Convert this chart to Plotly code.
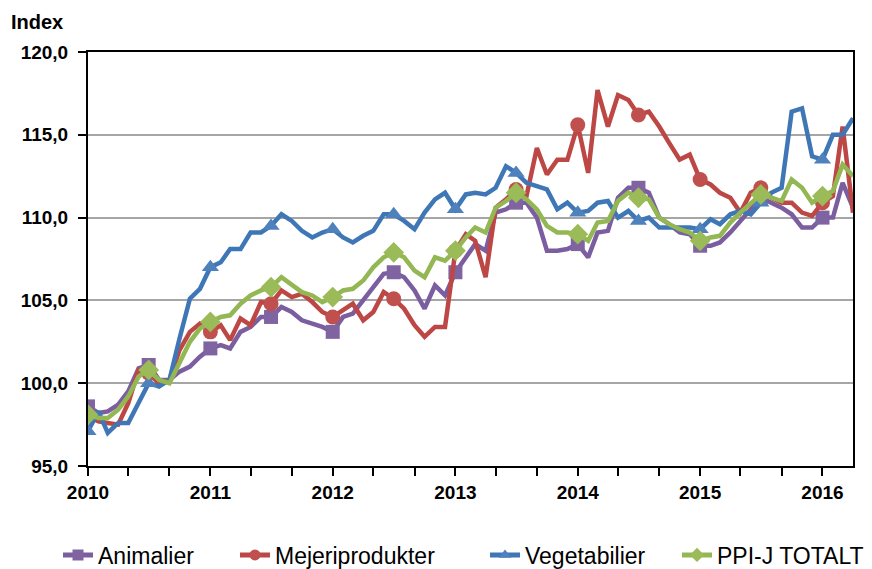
import pandas as pd
import plotly.graph_objects as go

months = pd.date_range("2010-01-01", periods=76, freq="MS")

animalier = [98.6, 98.2, 98.3, 98.7, 99.5, 100.9, 101.1, 100.2, 100.2, 100.7, 101.0, 101.6,
             102.1, 102.3, 102.1, 103.1, 103.4, 104.0, 104.0, 104.6, 104.3, 103.8, 103.6, 103.4,
             103.1, 104.0, 104.2, 105.0, 105.8, 106.6, 106.7, 106.4, 105.6, 104.5, 105.9, 105.3,
             106.7, 107.6, 108.4, 108.0, 110.3, 110.5, 110.9, 110.9, 110.0, 108.0, 108.0, 108.1,
             108.4, 107.6, 109.1, 109.2, 111.2, 111.8, 111.8, 111.5, 110.0, 109.6, 109.1, 109.0,
             108.3, 108.3, 108.5, 109.1, 109.8, 110.6, 111.2, 110.9, 110.6, 110.2, 109.4, 109.4,
             110.0, 110.0, 112.1, 110.6]

mejeri = [98.0, 97.7, 97.6, 97.5, 98.8, 100.8, 100.6, 100.0, 100.2, 102.0, 103.1, 103.6,
          103.1, 103.5, 102.6, 103.9, 103.5, 104.9, 104.8, 105.6, 105.2, 105.4, 104.9, 104.3,
          104.0, 104.4, 104.8, 103.8, 104.3, 105.5, 105.1, 104.5, 103.5, 102.8, 103.4, 103.4,
          108.0, 109.0, 108.6, 106.4, 110.6, 111.1, 111.7, 111.3, 114.2, 112.6, 113.5, 113.5,
          115.6, 112.7, 117.7, 115.5, 117.4, 117.1, 116.2, 116.4, 115.5, 114.5, 113.5, 113.8,
          112.3, 112.0, 111.5, 111.2, 110.3, 111.5, 111.8, 111.2, 110.9, 110.9, 110.3, 110.1,
          110.9, 111.3, 115.5, 110.3]

vegetabilier = [97.1, 98.3, 97.0, 97.6, 97.6, 98.8, 100.0, 99.8, 100.2, 102.7, 105.1, 105.7,
                107.0, 107.3, 108.1, 108.1, 109.1, 109.1, 109.5, 110.2, 109.8, 109.2, 108.8, 109.1,
                109.3, 108.8, 108.5, 108.9, 109.2, 110.2, 110.2, 109.8, 109.3, 110.3, 111.1, 111.5,
                110.5, 111.4, 111.5, 111.4, 111.8, 113.1, 112.7, 112.1, 111.9, 111.7, 110.5, 110.9,
                110.3, 110.4, 110.9, 111.0, 110.0, 110.4, 109.8, 110.0, 109.4, 109.4, 109.4, 109.4,
                109.3, 109.9, 109.6, 110.2, 110.4, 110.2, 110.9, 111.5, 111.8, 116.4, 116.6, 113.7,
                113.5, 115.0, 115.0, 116.0]

ppi_totalt = [98.1, 97.9, 97.9, 98.4, 99.2, 100.4, 100.8, 100.2, 100.0, 101.2, 102.5, 103.3,
              103.7, 104.0, 104.1, 104.8, 105.3, 105.6, 105.8, 106.4, 105.9, 105.5, 105.3, 104.9,
              105.2, 105.6, 105.7, 106.2, 107.0, 107.6, 107.9, 107.6, 106.8, 106.4, 107.6, 107.4,
              108.0, 108.8, 109.4, 109.1, 110.6, 111.0, 111.5, 111.1, 110.5, 109.5, 109.1, 109.1,
              109.0, 108.6, 109.7, 109.8, 111.0, 111.5, 111.2, 111.1, 110.0, 109.6, 109.3, 109.1,
              108.6, 108.8, 108.9, 109.7, 110.3, 110.9, 111.4, 111.2, 111.0, 112.3, 111.8, 110.9,
              111.3, 111.6, 113.2, 112.5]

series_names = ["Animalier", "Mejeriprodukter", "Vegetabilier", "PPI-J TOTALT"]
year_ticks = ["2010", "2011", "2012", "2013", "2014", "2015", "2016"]
y_ticks = [95, 100, 105, 110, 115, 120]
y_tick_labels = ["95,0", "100,0", "105,0", "110,0", "115,0", "120,0"]

line_colors = ["#7B5E9F", "#BC4744", "#3F77B6", "#93B752"]
marker_colors = ["#8064A2", "#C0504D", "#4F81BD", "#9BBB59"]
symbols = ["square", "circle", "triangle-up", "diamond"]
marker_sizes = [14, 15, 15, 16]
legend_ids = ["legend", "legend2", "legend3", "legend4"]
legend_x = [50, 227, 477, 669]

fig = go.Figure()
for name, vals, lc, mc, sym, ms in zip(series_names, [animalier, mejeri, vegetabilier, ppi_totalt],
                                       line_colors, marker_colors, symbols, marker_sizes):
    sizes = [ms if i % 6 == 0 else 0 for i in range(len(vals))]
    fig.add_trace(go.Scatter(
        x=months, y=vals, name=name, mode="lines+markers", showlegend=False,
        line=dict(color=lc, width=4.5),
        marker=dict(color=mc, symbol=sym, size=sizes, opacity=1, line=dict(width=0)),
    ))

for name, lc, mc, sym, lid in zip(series_names, line_colors, marker_colors, symbols, legend_ids):
    fig.add_trace(go.Scatter(
        x=[None], y=[None], name=name, mode="lines+markers", legend=lid,
        line=dict(color=lc, width=5),
        marker=dict(color=mc, symbol=sym, size=11, opacity=1, line=dict(width=0)),
    ))

year_dates = pd.to_datetime([y + "-01-01" for y in year_ticks])

legend_layout = {}
for lid, lx in zip(legend_ids, legend_x):
    legend_layout[lid] = dict(orientation="h", xref="container", yref="container",
                              x=lx / 872, xanchor="left", y=0.0387, yanchor="middle",
                              font=dict(size=23, family="Liberation Sans"),
                              bgcolor="rgba(0,0,0,0)")

fig.update_layout(
    width=872, height=569,
    margin=dict(l=80, r=27, t=44, b=111),
    paper_bgcolor="white", plot_bgcolor="white",
    font=dict(family="Liberation Sans, Arial", color="black"),
    showlegend=True,
    annotations=[dict(text="<b>Index</b>", xref="paper", yref="paper", x=-0.103, y=1.04,
                      xanchor="left", yanchor="bottom", showarrow=False,
                      font=dict(size=20, family="Liberation Sans"))],
    **legend_layout,
)
fig.update_xaxes(
    automargin=False,
    range=[months[0], months[-1]],
    tickvals=year_dates, ticktext=["<b>%s</b>" % t for t in year_ticks],
    showgrid=False, showline=True, linecolor="black", linewidth=2, mirror=True,
    ticks="outside", ticklen=8, tickwidth=2, tickcolor="black",
    tickfont=dict(size=19, family="Liberation Sans"),
    minor=dict(tickmode="linear", tick0="2010-01-01", dtick="M4", ticks="outside",
               ticklen=8, tickwidth=2, tickcolor="black", showgrid=False),
)
fig.update_yaxes(
    automargin=False,
    range=[95, 120], tickvals=y_ticks, ticktext=["<b>%s</b>" % t for t in y_tick_labels],
    showgrid=True, gridcolor="#A6A6A6", gridwidth=2,
    showline=True, linecolor="black", linewidth=2, mirror=True,
    ticks="outside", ticklen=8, tickwidth=2, tickcolor="black", ticklabelstandoff=6,
    tickfont=dict(size=19, family="Liberation Sans"), zeroline=False,
)
fig.write_html("out.html")
